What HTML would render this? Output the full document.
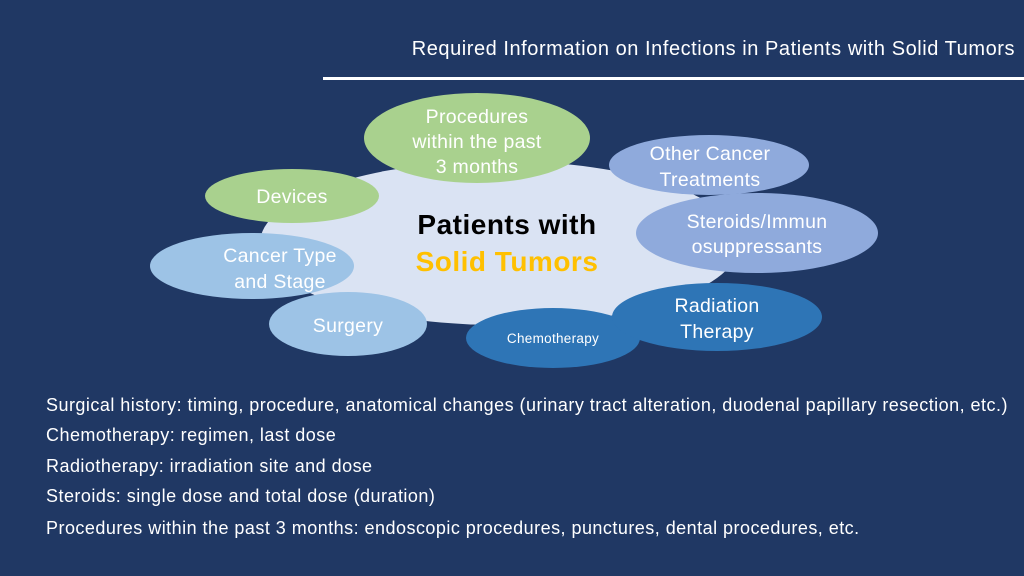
<!DOCTYPE html>
<html><head><style>
html,body{margin:0;padding:0}
body{width:1024px;height:576px;background:#203864;position:relative;overflow:hidden;font-family:"Liberation Sans",sans-serif;color:#fff}
.t{position:absolute;white-space:nowrap}
.b{left:46px;font-size:18px;letter-spacing:0.47px}
</style></head><body>
<div class="t" style="right:9px;top:38px;font-size:20px;letter-spacing:0.55px">Required Information on Infections in Patients with Solid Tumors</div>
<div style="position:absolute;left:323px;top:77px;width:701px;height:3px;background:#fff"></div>
<svg width="1024" height="576" style="position:absolute;left:0;top:0" font-family="Liberation Sans, sans-serif">
<ellipse cx="500" cy="243" rx="240" ry="82" fill="#dae3f3"/>
<ellipse cx="477" cy="138" rx="113" ry="45" fill="#a9d18e"/>
<ellipse cx="292" cy="196" rx="87" ry="27" fill="#a9d18e"/>
<ellipse cx="709" cy="165" rx="100" ry="30" fill="#8faadc"/>
<ellipse cx="757" cy="233" rx="121" ry="40" fill="#8faadc"/>
<ellipse cx="252" cy="266" rx="102" ry="33" fill="#9dc3e6"/>
<ellipse cx="348" cy="324" rx="79" ry="32" fill="#9dc3e6"/>
<ellipse cx="553" cy="338" rx="87" ry="30" fill="#2e75b6"/>
<ellipse cx="717" cy="317" rx="105" ry="34" fill="#2e75b6"/>
<g fill="#fff" font-size="19.5" text-anchor="middle" letter-spacing="0.3">
<text x="477" y="123">Procedures</text>
<text x="477" y="148">within the past</text>
<text x="477" y="173">3 months</text>
<text x="292" y="203">Devices</text>
<text x="710" y="160">Other Cancer</text>
<text x="710" y="186">Treatments</text>
<text x="757" y="228">Steroids/Immun</text>
<text x="757" y="253">osuppressants</text>
<text x="280" y="262">Cancer Type</text>
<text x="280" y="288">and Stage</text>
<text x="348" y="332">Surgery</text>
<text x="717" y="312">Radiation</text>
<text x="717" y="338">Therapy</text>
<text x="553" y="343" font-size="13.5">Chemotherapy</text>
</g>
<text x="507" y="234" text-anchor="middle" font-size="28" font-weight="bold" fill="#000" letter-spacing="0.5">Patients with</text>
<text x="507" y="271" text-anchor="middle" font-size="28" font-weight="bold" fill="#ffc000" letter-spacing="0.5">Solid Tumors</text>
</svg>
<div class="t b" style="top:395px">Surgical history: timing, procedure, anatomical changes (urinary tract alteration, duodenal papillary resection, etc.)</div>
<div class="t b" style="top:425px">Chemotherapy: regimen, last dose</div>
<div class="t b" style="top:456px">Radiotherapy: irradiation site and dose</div>
<div class="t b" style="top:486px">Steroids: single dose and total dose (duration)</div>
<div class="t b" style="top:518px">Procedures within the past 3 months: endoscopic procedures, punctures, dental procedures, etc.</div>
</body></html>
